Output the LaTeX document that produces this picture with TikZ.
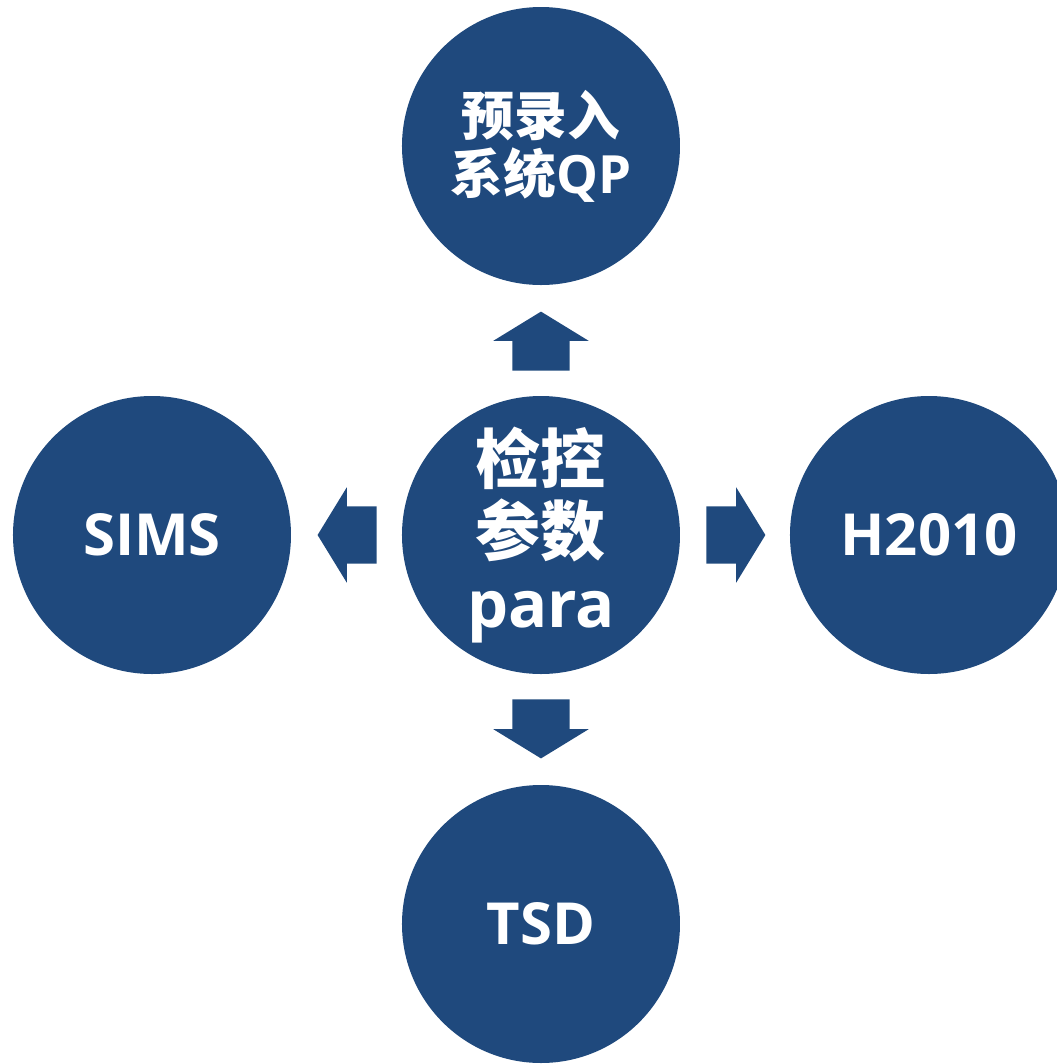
\documentclass[tikz,border=0pt]{standalone}
\usepackage{fontspec}
\setmainfont{Open Sans}
\newfontfamily\cjk{Noto Sans CJK SC}
\usetikzlibrary{positioning,shapes.arrows}
\definecolor{darkblue}{RGB}{31,73,125}

\begin{document}
\begin{tikzpicture}[
  sys/.style={draw=none,fill=darkblue,circle,minimum size=2.78cm,inner sep=0pt,
    text=white,align=center,font=\bfseries\fontsize{16.5}{20}\selectfont},
  blockarrow/.style={single arrow,fill=darkblue,draw=none,inner sep=0pt,
    minimum height=0.59cm,single arrow head extend=0.19cm,
    single arrow head indent=0pt,single arrow tip angle=117,anchor=tail}
]
\useasboundingbox (-5.41,5.35) rectangle (5.16,-5.29);
\clip (-5.41,5.35) rectangle (5.16,-5.29);

\node[sys,font=\bfseries\fontsize{18.5}{20.5}\selectfont] (para) at (0,0) {{\cjk 检控}\\{\cjk 参数}\\para};
\node[sys,font=\bfseries\fontsize{15}{16.5}\selectfont] (qp) at (0,3.89) {{\cjk 预录入}\\{\cjk 系统}QP};
\node[sys] (sims) at (-3.89,0) {SIMS};
\node[sys] (h2010) at (3.88,0) {H2010};
\node[sys] (tsd) at (0,-3.89) {TSD};

% block arrows out of the centre
\node[blockarrow,rotate=90] (toqp) at ([yshift=0.24cm]para.north) {\rule{0pt}{0.56cm}};
\node[blockarrow,rotate=180] (tosims) at ([xshift=-0.24cm]para.west) {\rule{0pt}{0.56cm}};
\node[blockarrow] (toh2010) at ([xshift=0.25cm]para.east) {\rule{0pt}{0.56cm}};
\node[blockarrow,rotate=270] (totsd) at ([yshift=-0.24cm]para.south) {\rule{0pt}{0.56cm}};

\end{tikzpicture}
\end{document}
